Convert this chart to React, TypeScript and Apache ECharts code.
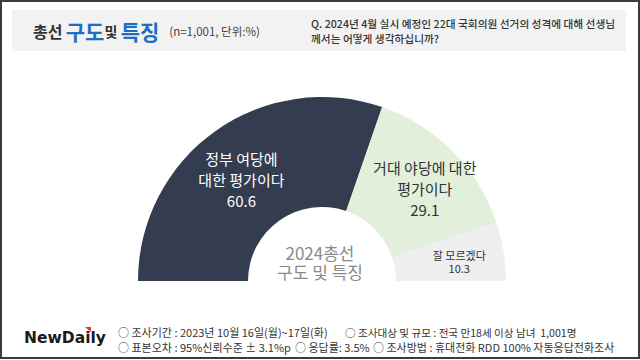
import React, { useEffect, useRef } from "react";
import * as echarts from "echarts";

const categories = ["정부 여당에\n대한 평가이다", "거대 야당에 대한\n평가이다", "잘 모르겠다"];
const values = [60.6, 29.1, 10.3];
const sliceColors = ["#333d4f", "#e2efda", "#efefef"];
const centerLines = ["2024총선", "구도 및 특징"];
const questionLines = [
  "Q. 2024년 4월 실시 예정인 22대 국회의원 선거의 성격에 대해 선생님",
  "께서는 어떻게 생각하십니까?",
];
const footerRow1 = ["○ 조사기간 : 2023년 10월 16일(월)~17일(화)", "○ 조사대상 및 규모 : 전국 만18세 이상 남녀  1,001명"];
const footerRow2 = ["○ 표본오차 : 95%신뢰수준 ± 3.1%p", "○ 응답률: 3.5%", "○ 조사방법 : 휴대전화 RDD 100% 자동응답전화조사"];

const FONT = "'Noto Sans CJK KR', 'Noto Sans', sans-serif";

export default function App() {
  const ref = useRef<HTMLDivElement>(null);
  useEffect(() => {
    if (!ref.current) return;
    const chart = echarts.init(ref.current, null, { renderer: "svg" });
    const labelStyles = [
      { color: "#ffffff", fontSize: 15, lineHeight: 21, offset: [-4, 6] },
      { color: "#333333", fontSize: 15, lineHeight: 21, offset: [9, 0] },
      { color: "#333333", fontSize: 11, lineHeight: 13, offset: [7, 2] },
    ];
    const foot = (x: number, y: number, text: string, size: number) => ({
      type: "text",
      x,
      y,
      style: { text, fontSize: size, fill: "#333333", fontFamily: FONT, verticalAlign: "middle" },
    });
    const center = (y: number, text: string) => ({
      type: "text",
      x: 320,
      y,
      style: { text, fontSize: 17, fill: "#8a8a8a", fontFamily: FONT, align: "center", verticalAlign: "middle" },
    });
    chart.setOption({
      animation: false,
      backgroundColor: "#ffffff",
      textStyle: { fontFamily: FONT },
      graphic: [
        { type: "rect", shape: { x: 1, y: 1, width: 638, height: 357 }, style: { fill: "none", stroke: "#3c3c3c", lineWidth: 2 } },
        { type: "rect", shape: { x: 12, y: 10, width: 614, height: 41 }, style: { fill: "#f2f2f2" } },
        {
          type: "text",
          x: 33,
          y: 31,
          style: {
            text: "{a|총선} {b|구도}{c|및} {b|특징}   {d|(n=1,001, 단위:%)}",
            verticalAlign: "middle",
            rich: {
              a: { fontSize: 16, fontWeight: "bold", fill: "#333333", fontFamily: FONT },
              b: { fontSize: 21, fontWeight: "bold", fill: "#1c6fc3", fontFamily: FONT },
              c: { fontSize: 14, fontWeight: "bold", fill: "#333333", fontFamily: FONT },
              d: { fontSize: 11.5, fill: "#444444", fontFamily: FONT },
            },
          },
        },
        {
          type: "text",
          x: 311,
          y: 31,
          style: {
            text: questionLines.join("\n"),
            fontSize: 10.7,
            lineHeight: 15,
            fontWeight: 500,
            fill: "#333333",
            fontFamily: FONT,
            verticalAlign: "middle",
          },
        },
        center(252, centerLines[0]),
        center(271, centerLines[1]),
        {
          type: "text",
          x: 24,
          y: 338,
          style: { text: "NewDaily", fontSize: 15.5, fontWeight: "bold", fill: "#1a1a1a", fontFamily: "'DejaVu Sans', sans-serif", verticalAlign: "middle" },
        },
        { type: "polygon", shape: { points: [[85, 327], [91, 327], [91, 332]] }, style: { fill: "#e8332a" } },
        foot(118, 332, footerRow1[0], 11),
        foot(345, 332, footerRow1[1], 10.6),
        foot(118, 347, footerRow2[0], 11),
        foot(295, 347, footerRow2[1], 11),
        foot(373, 347, footerRow2[2], 11),
      ],
      series: [
        {
          type: "pie",
          center: [322, 281],
          radius: [74, 184],
          startAngle: 180,
          endAngle: 0,
          clockwise: true,
          silent: true,
          labelLine: { show: false },
          data: categories.map((name, i) => ({
            name,
            value: values[i],
            itemStyle: { color: sliceColors[i] },
            label: {
              show: true,
              position: "inside",
              formatter: "{b}\n{c}",
              color: labelStyles[i].color,
              fontSize: labelStyles[i].fontSize,
              lineHeight: labelStyles[i].lineHeight,
              fontFamily: FONT,
              offset: labelStyles[i].offset,
            },
          })),
        },
      ],
    });
    return () => chart.dispose();
  }, []);
  return <div ref={ref} style={{ position: "fixed", left: 0, top: 0, width: 640, height: 360 }} />;
}
